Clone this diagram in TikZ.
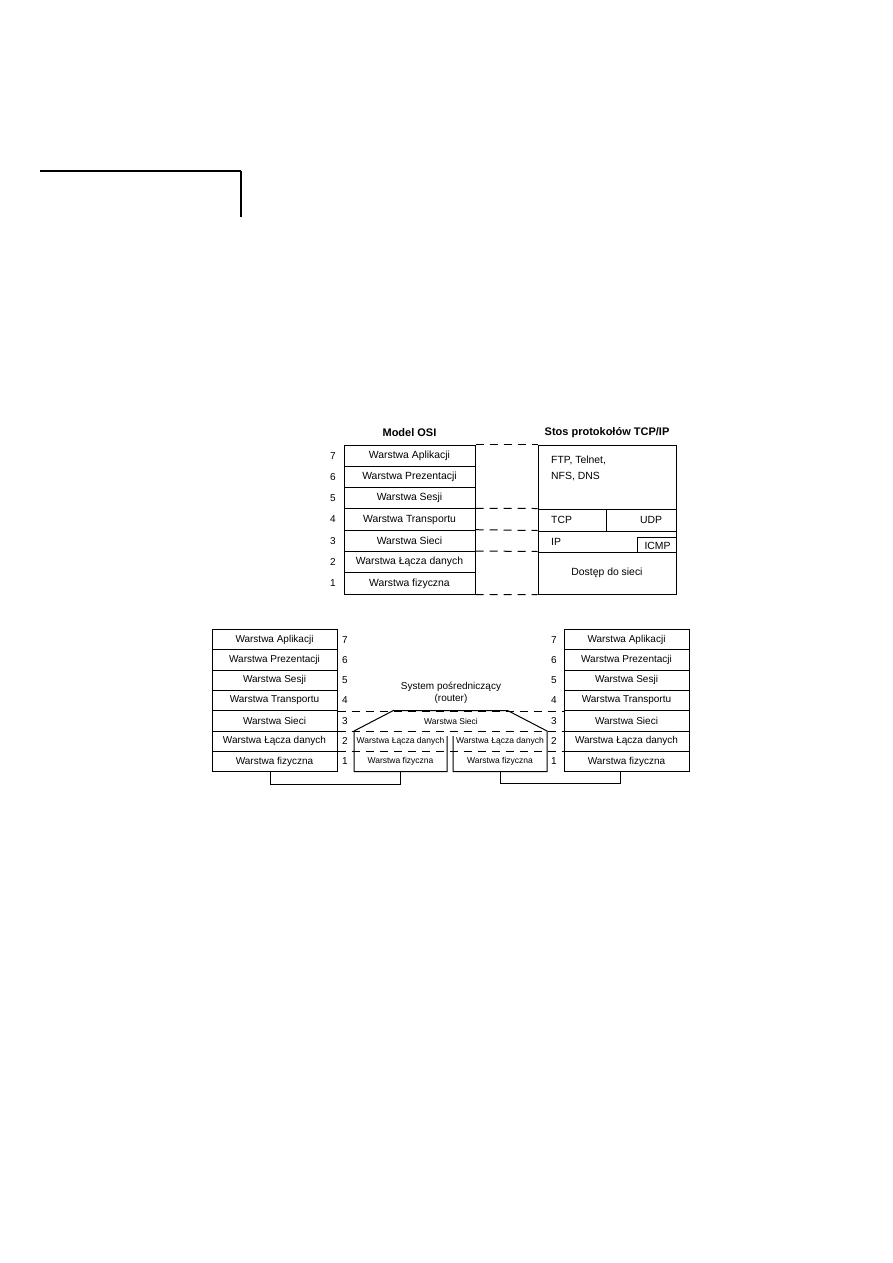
\documentclass[tikz,border=0pt]{standalone}
\usepackage{fontspec}
\setmainfont{Liberation Sans}
\begin{document}
\begin{tikzpicture}[x=1pt,y=-1pt,
  ln/.style={line width=1pt},
  box/.style={draw, ln, minimum width=131pt, minimum height=21.3pt, inner sep=0pt, font=\fontsize{10.4}{12}\selectfont},
  bbox/.style={draw, ln, minimum width=125pt, minimum height=20.3pt, inner sep=0pt, font=\fontsize{10}{12}\selectfont},
  num/.style={inner sep=0pt, font=\fontsize{10}{12}\selectfont},
  txt/.style={inner sep=0pt, font=\fontsize{10.4}{12}\selectfont},
  small/.style={inner sep=0pt, font=\fontsize{8.5}{10}\selectfont},
  cell/.style={draw, ln, inner sep=0pt},
  title/.style={inner sep=0pt, font=\fontsize{11}{13}\selectfont\bfseries},
  dsh/.style={ln, dash pattern=on 8pt off 6pt}]
\useasboundingbox (0,0) rectangle (893,1263);

% corner mark
\coordinate (m1) at (40,171);
\coordinate (m2) at (241,171);
\coordinate (m3) at (241,217);
\draw[line width=1.2pt] (m1) -- (m2);
\draw[line width=2pt] (m2) -- (m3);

% ---------- top: OSI vs TCP/IP ----------
\node[title] (tosi) at (409.5,433) {Model OSI};
\node[title] (ttcpip) at (607,433) {Stos protokołów TCP/IP};

\node[box] (o7) at (409.5,455.65) {Warstwa Aplikacji};
\node[box] (o6) at (409.5,476.95) {Warstwa Prezentacji};
\node[box] (o5) at (409.5,498.25) {Warstwa Sesji};
\node[box] (o4) at (409.5,519.55) {Warstwa Transportu};
\node[box] (o3) at (409.5,540.85) {Warstwa Sieci};
\node[box] (o2) at (409.5,562.15) {Warstwa Łącza danych};
\node[box] (o1) at (409.5,583.45) {Warstwa fizyczna};

\node[num] (on7) at (333,455.65) {7};
\node[num] (on6) at (333,476.95) {6};
\node[num] (on5) at (333,498.25) {5};
\node[num] (on4) at (333,519.55) {4};
\node[num] (on3) at (333,540.85) {3};
\node[num] (on2) at (333,562.15) {2};
\node[num] (on1) at (333,583.45) {1};

\node[cell, minimum width=138pt, minimum height=64pt] (tapp) at (607,477) {};
\node[cell, minimum width=68pt, minimum height=22pt] (ttcp) at (572,520) {};
\node[cell, minimum width=70pt, minimum height=22pt] (tudp) at (641,520) {};
\node[cell, minimum width=138pt, minimum height=21pt] (tip) at (607,541.5) {};
\node[cell, minimum width=39pt, minimum height=15pt] (ticmp) at (656.5,544.5) {};
\node[cell, minimum width=138pt, minimum height=42pt, txt] (tnet) at (607,573) {Dostęp do sieci};

\node[txt, anchor=north west, align=left, font=\fontsize{10.4}{15.5}\selectfont] (lapp) at (551,456) {FTP, Telnet,\\NFS, DNS};
\node[txt, anchor=west] (ltcp) at (551,520) {TCP};
\node[txt] (ludp) at (651,520) {UDP};
\node[txt, anchor=west] (lip) at (551,541.5) {IP};
\node[txt] (licmp) at (657.5,546) {ICMP};

\draw[dsh] (o7.north east) -- (tapp.north west);
\draw[dsh] (o4.north east) -- (ttcp.north west);
\draw[dsh] (o3.north east) -- (tip.north west);
\draw[dsh] (o2.north east) -- (tnet.north west);
\draw[dsh] (o1.south east) -- (tnet.south west);

% ---------- bottom: two hosts and a router ----------
\node[bbox] (L7) at (274.5,639.65) {Warstwa Aplikacji};
\node[bbox] (L6) at (274.5,659.95) {Warstwa Prezentacji};
\node[bbox] (L5) at (274.5,680.25) {Warstwa Sesji};
\node[bbox] (L4) at (274.5,700.55) {Warstwa Transportu};
\node[bbox] (L3) at (274.5,720.85) {Warstwa Sieci};
\node[bbox] (L2) at (274.5,741.15) {Warstwa Łącza danych};
\node[bbox] (L1) at (274.5,761.45) {Warstwa fizyczna};

\node[bbox] (R7) at (626.5,639.65) {Warstwa Aplikacji};
\node[bbox] (R6) at (626.5,659.95) {Warstwa Prezentacji};
\node[bbox] (R5) at (626.5,680.25) {Warstwa Sesji};
\node[bbox] (R4) at (626.5,700.55) {Warstwa Transportu};
\node[bbox] (R3) at (626.5,720.85) {Warstwa Sieci};
\node[bbox] (R2) at (626.5,741.15) {Warstwa Łącza danych};
\node[bbox] (R1) at (626.5,761.45) {Warstwa fizyczna};

\node[num] (ln7) at (345,639.65) {7};
\node[num] (ln6) at (345,659.95) {6};
\node[num] (ln5) at (345,680.25) {5};
\node[num] (ln4) at (345,700.55) {4};
\node[num] (ln3) at (345,720.85) {3};
\node[num] (ln2) at (345,741.15) {2};
\node[num] (ln1) at (345,761.45) {1};

\node[num] (rn7) at (554,639.65) {7};
\node[num] (rn6) at (554,659.95) {6};
\node[num] (rn5) at (554,680.25) {5};
\node[num] (rn4) at (554,700.55) {4};
\node[num] (rn3) at (554,720.85) {3};
\node[num] (rn2) at (554,741.15) {2};
\node[num] (rn1) at (554,761.45) {1};

\draw[dsh] (L4.south east) -- (R4.south west);
\draw[dsh] (L3.south east) -- (R3.south west);
\draw[dsh] (L2.south east) -- (R2.south west);

% router
\node[inner sep=0pt, align=center, font=\fontsize{10}{11.5}\selectfont] (rtitle) at (451,693) {System pośredniczący\\(router)};
\node[small] (rs) at (451,721) {Warstwa Sieci};
\node[small, minimum width=93pt, minimum height=20.3pt] (rl2) at (400.5,741.15) {Warstwa Łącza danych};
\node[small, minimum width=93pt, minimum height=20.3pt] (rl1) at (400.5,761.45) {Warstwa fizyczna};
\node[small, minimum width=94pt, minimum height=20.3pt] (rr2) at (500,741.15) {Warstwa Łącza danych};
\node[small, minimum width=94pt, minimum height=20.3pt] (rr1) at (500,761.45) {Warstwa fizyczna};

\coordinate (p1) at (447,736);
\coordinate (p2) at (447,771.6);
\coordinate (p3) at (354,771.6);
\coordinate (p4) at (354,731);
\coordinate (p5) at (393,710.7);
\coordinate (p6) at (508,710.7);
\coordinate (p7) at (547,731);
\coordinate (p8) at (547,771.6);
\coordinate (p9) at (453,771.6);
\coordinate (p10) at (453,736);
\draw[ln, line join=miter] (p1) -- (p2) -- (p3) -- (p4) -- (p5) -- (p6) -- (p7) -- (p8) -- (p9) -- (p10);

% links
\draw[ln] ([xshift=-4pt]L1.south) -- ++(0,12) -| (rl1.south);
\draw[ln] (rr1.south) -- ++(0,12) -| ([xshift=-6pt]R1.south);
\end{tikzpicture}
\end{document}
